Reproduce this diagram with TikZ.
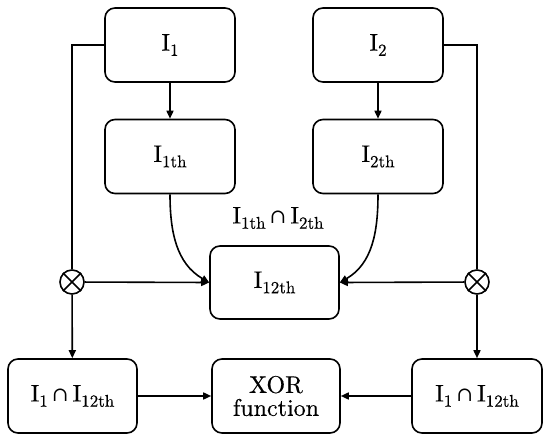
\documentclass[tikz,border=0pt]{standalone}
\usepackage{fontspec}
\setmainfont{lmroman10-regular.otf}[FakeBold=0.4]
\newfontfamily\symfont{DejaVu Serif}
\usetikzlibrary{arrows.meta}
\newcommand{\sbs}[1]{\raisebox{-0.22em}{\fontsize{17}{17}\selectfont #1}}
\newcommand{\capsym}{\,{\symfont\fontsize{20}{22}\selectfont ∩}\,}
\begin{document}
\begin{tikzpicture}[x=1pt,y=-1pt,
  box/.style={draw,line width=1.6pt,rounded corners=10pt,minimum width=130pt,minimum height=74pt,align=center,font=\fontsize{24}{27}\selectfont,inner sep=0pt},
  mul/.style={draw,circle,line width=1.6pt,minimum size=24pt,inner sep=0pt},
  conn/.style={line width=1.6pt},
  arr/.style={line width=1.6pt,-{Triangle[length=8pt,width=7pt]}}]
\useasboundingbox (0,0) rectangle (550,441);
\node[box] (i1) at (170,45) {I\sbs{1}};
\node[box] (i1th) at (170,156.5) {I\sbs{1th}};
\node[box] (i2) at (378,45) {I\sbs{2}};
\node[box] (i2th) at (378,156.5) {I\sbs{2th}};
\node[box,minimum width=129pt,minimum height=73pt] (i12) at (274.5,282.5) {I\sbs{12th}};
\node[box,minimum width=129pt] (bl) at (72.5,396) {I\sbs{1}\capsym I\sbs{12th}};
\node[box,minimum width=128pt] (xor) at (276,396) {XOR\\[-4pt]function};
\node[box] (br) at (477,396) {I\sbs{1}\capsym I\sbs{12th}};
\node[font=\fontsize{24}{27}\selectfont] (lab) at (278,218) {I\sbs{1th}\capsym I\sbs{2th}};
\node[mul] (m1) at (72,282) {};
\node[mul] (m2) at (477,282) {};
\draw[conn] (m1.north east) -- (m1.south west) (m1.north west) -- (m1.south east);
\draw[conn] (m2.north east) -- (m2.south west) (m2.north west) -- (m2.south east);
\draw[conn] (i1.west) -| (m1.north);
\draw[conn] (i2.east) -| (m2.north);
\draw[arr] (i1) -- (i1th);
\draw[arr] (i2) -- (i2th);
\draw[arr] (m1) -- (i12.west);
\draw[arr] (m2) -- (i12.east);
\draw[arr] (m1) -- (bl);
\draw[arr] (m2) -- (br);
\draw[arr] (i1th.south) to[out=-90,in=150] (i12.west);
\draw[arr] (i2th.south) to[out=-90,in=30] (i12.east);
\draw[arr] (bl) -- (xor);
\draw[arr] (br) -- (xor);
\end{tikzpicture}
\end{document}
